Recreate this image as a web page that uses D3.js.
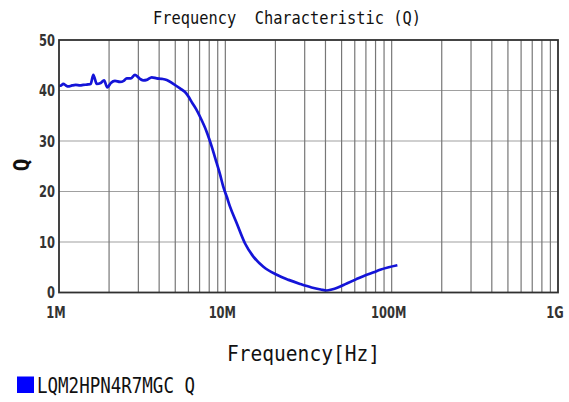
<!DOCTYPE html>
<html>
<head>
<meta charset="utf-8">
<script src="https://cdn.jsdelivr.net/npm/d3@7/dist/d3.min.js"></script>
<style>
  html, body { margin: 0; padding: 0; background: #fff; }
  svg { display: block; }
  text { white-space: pre; }
</style>
</head>
<body>
<svg id="chart" width="569" height="402"></svg>
<script>
// Data (frequency in MHz, Q)
const freqMHz = [1.0, 1.03, 1.061, 1.1, 1.133, 1.2, 1.26, 1.338, 1.4, 1.494, 1.55, 1.608, 1.686, 1.78, 1.865, 1.952, 2.05, 2.171, 2.327, 2.45, 2.554, 2.7, 2.864, 3.07, 3.22, 3.369, 3.61, 3.868, 4.15, 4.443, 4.868, 5.341, 5.723, 6.0, 6.28, 6.65, 7.045, 7.73, 8.284, 8.878, 9.293, 9.727, 10.19, 10.67, 11.71, 13.14, 14.74, 16.93, 20.38, 24.0, 28.13, 33.0, 37.5, 40.7, 43.6, 47.5, 53.7, 61.0, 70.8, 78.0, 85.2, 96.0, 108.2];
const qValues = [40.9, 41.0, 41.3, 41.0, 40.8, 41.0, 41.1, 41.0, 41.1, 41.2, 41.3, 43.1, 41.3, 41.5, 42.0, 40.6, 41.5, 41.9, 41.7, 41.9, 42.4, 42.4, 43.1, 42.3, 42.0, 42.1, 42.6, 42.4, 42.3, 42.1, 41.3, 40.4, 39.7, 38.8, 37.7, 36.4, 34.8, 31.8, 28.9, 25.6, 23.4, 20.9, 19.0, 17.0, 13.7, 9.7, 7.1, 5.1, 3.5, 2.5, 1.7, 1.0, 0.6, 0.4, 0.6, 1.0, 1.8, 2.6, 3.5, 4.0, 4.5, 5.0, 5.4];
const yTicks = [0, 10, 20, 30, 40, 50];
const xTickValues = [1e6, 1e7, 1e8, 1e9];
const xTickLabels = ["1M", "10M", "100M", "1G"];
const titleText = "Frequency  Characteristic (Q)";
const xAxisTitle = "Frequency[Hz]";
const yAxisTitle = "Q";
const seriesName = "LQM2HPN4R7MGC Q";

const svg = d3.select("#chart");
const L = 59, R = 558, T = 40, B = 292.5;
const x = d3.scaleLog().domain([1e6, 1e9]).range([L, R]);
const y = d3.scaleLinear().domain([0, 50]).range([B, T]);

// minor vertical grid
const minor = [];
for (let d = 6; d < 9; d++) for (let m = 2; m <= 9; m++) minor.push(m * Math.pow(10, d));
const g = svg.append("g");
g.selectAll("line.hg").data(yTicks.filter(v => v > 0 && v < 50)).enter().append("line")
  .attr("x1", L).attr("x2", R).attr("y1", d => y(d)).attr("y2", d => y(d))
  .attr("stroke", "#a0a0a0").attr("stroke-width", 1.2);
g.selectAll("line.vg").data(minor.concat([1e7, 1e8])).enter().append("line")
  .attr("x1", d => x(d)).attr("x2", d => x(d)).attr("y1", T).attr("y2", B)
  .attr("stroke", "#777").attr("stroke-width", 1.2);

// data line
const line = d3.line().x((d, i) => x(freqMHz[i] * 1e6)).y(d => y(d)).curve(d3.curveMonotoneX);
svg.append("path").datum(qValues).attr("d", line)
  .attr("fill", "none").attr("stroke", "#1414d8").attr("stroke-width", 2.7)
  .attr("stroke-linejoin", "round");

// frame
svg.append("rect").attr("x", L).attr("y", T).attr("width", R - L).attr("height", B - T)
  .attr("fill", "none").attr("stroke", "#303030").attr("stroke-width", 1.8);

const tickFont = "'DejaVu Sans Condensed', 'DejaVu Sans', sans-serif";
// y tick labels
svg.selectAll("text.yt").data(yTicks).enter().append("text")
  .attr("x", 55).attr("y", d => y(d) + 6)
  .attr("text-anchor", "end").attr("font-family", tickFont).attr("font-size", 15)
  .attr("font-weight", "bold").attr("fill", "#333")
  .attr("transform", d => `translate(55,${y(d)}) scale(0.85,1) translate(-55,${-y(d)})`)
  .text(d => d);

// x tick labels
svg.selectAll("text.xt").data(xTickValues).enter().append("text")
  .attr("x", d => x(d) - 3).attr("y", 318)
  .attr("text-anchor", "middle").attr("font-family", tickFont).attr("font-size", 15)
  .attr("font-weight", "bold").attr("fill", "#333")
  .attr("transform", d => `translate(${x(d) - 3},318) scale(0.85,1) translate(${-(x(d) - 3)},-318)`)
  .text((d, i) => xTickLabels[i]);

const monoFont = "'DejaVu Sans Mono', 'Liberation Mono', monospace";
// title
svg.append("text").attr("x", 153).attr("y", 24)
  .attr("font-family", monoFont).attr("font-size", 18).attr("fill", "#111")
  .attr("textLength", 268).attr("lengthAdjust", "spacingAndGlyphs")
  .text(titleText);

// x axis title
svg.append("text").attr("x", 227).attr("y", 361)
  .attr("font-family", monoFont).attr("font-size", 21).attr("fill", "#111")
  .attr("textLength", 153).attr("lengthAdjust", "spacingAndGlyphs")
  .text(xAxisTitle);

// y axis title
svg.append("text").attr("transform", "translate(29,165) rotate(-90)")
  .attr("text-anchor", "middle").attr("font-family", monoFont).attr("font-size", 21)
  .attr("font-weight", "bold").attr("fill", "#111")
  .text(yAxisTitle);

// legend
svg.append("rect").attr("x", 17).attr("y", 376.5).attr("width", 17).attr("height", 16.5)
  .attr("fill", "#0000ff");
svg.append("text").attr("x", 37).attr("y", 393)
  .attr("font-family", monoFont).attr("font-size", 21).attr("fill", "#111")
  .attr("textLength", 158).attr("lengthAdjust", "spacingAndGlyphs")
  .text(seriesName);
</script>
</body>
</html>
